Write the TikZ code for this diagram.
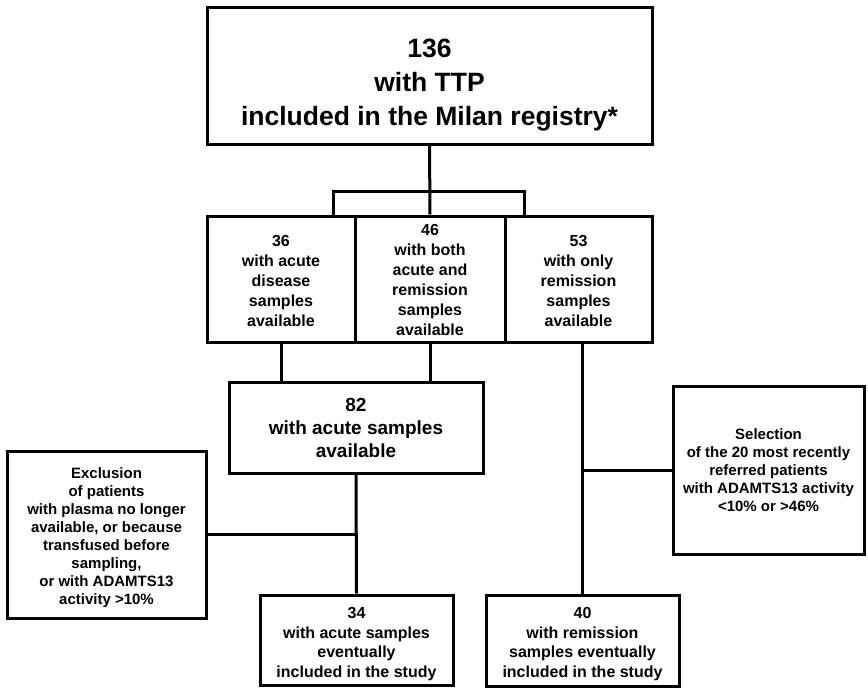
\documentclass[tikz,border=0pt]{standalone}
\usepackage{fontspec}
\setmainfont{Liberation Sans}
\newcommand{\lowtext}[2]{\raisebox{-#1}[\height][\depth]{\begin{tabular}{@{}c@{}}#2\end{tabular}}}
\begin{document}
\begin{tikzpicture}[x=1pt,y=-1pt,
  bx/.style={draw, line width=3pt, inner sep=0pt, font=\bfseries},
  conn/.style={line width=3pt, line join=miter}]
\useasboundingbox (0,0) rectangle (868,688);
% boxes
\node[bx, minimum width=445pt, minimum height=137pt, font=\bfseries\fontsize{26.5}{34}\selectfont] (top) at (429.5,75.5)
  {\lowtext{9pt}{136\\with TTP\\included in the Milan registry*}};
\node[bx, minimum width=148pt, minimum height=126pt, font=\bfseries\fontsize{16}{20}\selectfont] (b1) at (281,279)
  {\lowtext{3pt}{36\\with acute\\disease\\samples\\available}};
\node[bx, minimum width=150pt, minimum height=126pt, font=\bfseries\fontsize{16}{20}\selectfont] (b2) at (430,279)
  {\lowtext{2pt}{46\\with both\\acute and\\remission\\samples\\available}};
\node[bx, minimum width=147pt, minimum height=126pt, font=\bfseries\fontsize{16}{20}\selectfont] (b3) at (578.5,279)
  {\lowtext{3pt}{53\\with only\\remission\\samples\\available}};
\node[bx, minimum width=254pt, minimum height=91pt, font=\bfseries\fontsize{19}{23}\selectfont] (a82) at (356,427.5)
  {\lowtext{2pt}{82\\with acute samples\\available}};
\node[bx, minimum width=199pt, minimum height=167pt, font=\bfseries\fontsize{15}{18}\selectfont] (excl) at (106.5,534.5)
  {\lowtext{3pt}{Exclusion\\of patients\\with plasma no longer\\available, or because\\transfused before\\sampling,\\or with ADAMTS13\\activity >10\%}};
\node[bx, minimum width=191pt, minimum height=168pt, font=\bfseries\fontsize{15}{18}\selectfont] (sel) at (768.5,470)
  {\lowtext{2pt}{Selection\\of the 20 most recently\\referred patients\\with ADAMTS13 activity\\<10\% or >46\%}};
\node[bx, minimum width=193pt, minimum height=90pt, font=\bfseries\fontsize{16}{19.5}\selectfont] (r34) at (356.5,640)
  {\lowtext{4pt}{34\\with acute samples\\eventually\\included in the study}};
\node[bx, minimum width=193pt, minimum height=91pt, font=\bfseries\fontsize{16}{19.5}\selectfont] (r40) at (582.5,641)
  {\lowtext{3pt}{40\\with remission\\samples eventually\\included in the study}};
% connectors
\coordinate (bl) at (333,191);
\coordinate (br) at (524,191);
\draw[conn] (top.south) -- (b2.north);
\draw[conn] (bl |- b1.north) -- (bl) -- (br) -- (br |- b3.north);
\draw[conn] (b1.south) -- (b1.south |- a82.north);
\draw[conn] (b2.south) -- (b2.south |- a82.north);
\draw[conn] (a82.south) -- (r34.north);
\draw[conn] (excl.east) -- (excl.east -| a82.south);
\draw[conn] (r40.north |- b3.south) -- (r40.north);
\draw[conn] (sel.west) -- (sel.west -| r40.north);
\end{tikzpicture}
\end{document}
